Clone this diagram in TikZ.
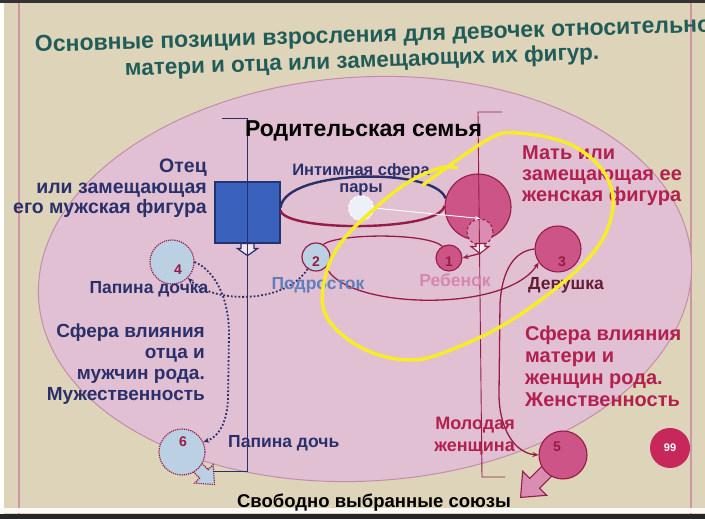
\documentclass[tikz,border=0pt]{standalone}
\usepackage{fontspec}
\setmainfont{Liberation Sans}
\usetikzlibrary{arrows.meta}
\definecolor{bgc}{RGB}{222,212,186}
\definecolor{navy}{RGB}{42,48,105}
\definecolor{crim}{RGB}{178,32,78}
\definecolor{cfill}{RGB}{204,84,134}
\definecolor{cborder}{RGB}{150,28,70}
\definecolor{lblue}{RGB}{188,208,228}
\definecolor{ellfill}{RGB}{226,192,212}
\definecolor{ellline}{RGB}{196,140,170}
\definecolor{titlec}{RGB}{32,92,88}
\definecolor{sqfill}{RGB}{58,98,188}
\definecolor{sqline}{RGB}{32,52,112}
\definecolor{teen}{RGB}{96,126,186}
\definecolor{child}{RGB}{214,136,172}
\definecolor{girl}{RGB}{100,30,52}
\definecolor{yel}{RGB}{246,236,40}
\definecolor{pnum}{RGB}{198,40,92}
\definecolor{lpink}{RGB}{218,140,178}
\definecolor{pinkrule}{RGB}{205,150,165}
\begin{document}
\begin{tikzpicture}[x=1pt,y=1pt,
  circ/.style={circle, inner sep=0pt, minimum size=#1},
  lbl/.style={inner sep=0pt, font=\bfseries\fontsize{19}{21}\selectfont},
  small/.style={inner sep=0pt, font=\bfseries\fontsize{17.5}{17}\selectfont},
  num/.style={inner sep=0pt, text=cborder, font=\bfseries\fontsize{14}{14}\selectfont},
  redcurve/.style={draw=cborder, line width=1.3pt},
  redarrow/.style={draw=cborder, line width=1.3pt, -{Stealth[length=6pt,width=5pt]}},
  navydots/.style={draw=navy, line width=1.8pt, dotted, -{Stealth[length=6pt,width=5pt]}},
  lbcirc/.style={fill=lblue, draw=cborder, line width=1.2pt, densely dotted},
  pkcirc/.style={fill=cfill, draw=cborder, line width=1.1pt},
  titletext/.style={inner sep=0pt, anchor=base west, text=titlec, font=\bfseries\fontsize{22.5}{24}\selectfont},
]
\useasboundingbox (0,0) rectangle (705,519);
\clip (0,0) rectangle (705,519);
% page
\fill[bgc] (0,0) rectangle (705,519);
\draw[pinkrule, line width=1.5pt] (19,0) -- (19,519);
\draw[pinkrule, line width=2pt] (691,0) -- (691,519);
\fill[white] (0,0) rectangle (4,519);
\fill[white!85!bgc] (0,6) rectangle (705,11);
\fill[black!85] (0,0) rectangle (705,5);
\fill[black!80] (0,516) rectangle (705,519);
% big ellipse
\filldraw[fill=ellfill, draw=ellline, line width=1pt, rotate around={3.5:(365,240)}]
  (365,240) ellipse [x radius=327pt, y radius=202pt];

% title
\node[titletext, rotate=1.7, font=\bfseries\fontsize{23}{24}\selectfont] (title1) at (35,467) {Основные позиции взросления для девочек относительно};
\node[titletext, rotate=2] (title2) at (125,443) {матери и отца или замещающих их фигур.};

% main nodes
\node[rectangle, inner sep=0pt, minimum width=65pt, minimum height=61pt, fill=sqfill, draw=sqline, line width=1.2pt] (sq) at (247.5,306.5) {};
\node[circ=66pt, pkcirc] (M) at (478,312) {};
\node[circ=26pt, fill=lpink, draw=cborder, line width=1pt, densely dashed] (D) at (480,287) {};
\node[circ=25pt, fill=white!70!lblue, draw=white, line width=1pt, densely dashed] (G) at (361,311) {};

% block arrows (under circles 5 and 6)
\begin{scope}[shift={(563,64)}, rotate=225]
  \filldraw[fill=lpink, draw=cborder, line width=1.1pt]
    (23,-7) -- (40,-7) -- (40,-17) -- (60,0) -- (40,17) -- (40,7) -- (23,7) -- cycle;
\end{scope}
\begin{scope}[shift={(182,67)}, rotate=-45]
  \filldraw[fill=lblue, draw=cborder, line width=1.2pt, densely dotted]
    (22,-6) -- (31,-6) -- (31,-13) -- (46,0) -- (31,13) -- (31,6) -- (22,6) -- cycle;
\end{scope}

\node[circ=26pt, pkcirc] (c1) at (449,261) {};
\node[circ=28pt, fill=lblue, draw=cborder, line width=1.2pt] (c2) at (316,262) {};
\node[circ=46pt, pkcirc] (c3) at (558,270) {};
\node[circ=44pt, lbcirc] (c4) at (172,257) {};
\node[circ=48pt, pkcirc] (c5) at (563,64) {};
\node[circ=46pt, lbcirc] (c6) at (182,67) {};
\node[circ=40pt, fill=pnum] (pn) at (670,71) {\color{white}\bfseries\fontsize{11}{11}\selectfont 99};

% numbers
\node[num] (n1) at ([shift={(0,-4)}]c1.center) {1};
\node[num] (n2) at ([shift={(0,-5)}]c2.center) {2};
\node[num] (n3) at ([shift={(4,-13)}]c3.center) {3};
\node[num] (n4) at ([shift={(6,-8)}]c4.center) {4};
\node[num] (n5) at ([shift={(-6,8)}]c5.center) {5};
\node[num] (n6) at ([shift={(1,10)}]c6.center) {6};

% hollow arrow below square
\filldraw[fill=white!60!ellfill, draw=navy, line width=1.2pt]
  ([xshift=-6.5pt]sq.south) -- ++(0,-5) -- ++(-3.5,0) -- ([yshift=-12pt]sq.south)
  -- ++(10,7) -- ++(-3.5,0) -- ++(0,5) -- cycle;
% hollow arrow below inner circle of mother
\coordinate (mtip) at ([yshift=-8pt]D.south);
\filldraw[fill=white!70!ellfill, draw=cborder, line width=1.1pt]
  ([shift={(-4,2)}]D.south) -- ++(0,-3) -- ++(-5,0) -- (mtip)
  -- ++(9,7) -- ++(-4,0) -- ++(0,3) -- cycle;

% vertical lines
\draw[navy, line width=0.9pt] (222,401) -- (247,401) -- (247,48) -- (213,48);
\draw[cborder, line width=0.9pt] (502,407) -- (478,407) -- (482,42) -- (505,42);

% intimate sphere
\draw[draw=navy, line width=2.4pt] ([yshift=5pt]sq.east) .. controls (285,350) and (435,352) .. (M.165);
\draw[draw=cborder, line width=2.4pt] ([yshift=2pt]sq.east) .. controls (285,287) and (440,287) .. (M.178);
\draw[white, line width=0.9pt, -{Stealth[length=5pt,width=4pt]}] (G.east) -- (D.north);

% connectors
\draw[redarrow] (mtip) -- (c1.east);
\draw[redcurve] (c2.60) .. controls (340,286) and (428,286) .. (c1.120);
\draw[redarrow] (c2.-45) .. controls (345,210) and (505,205) .. (c3.215);
\draw[redarrow] (c3.180) .. controls (515,268) and (502,250) .. (500,215) -- (499,125)
  .. controls (499,90) and (515,66) .. (c5.180);
\draw[navydots] (c2.235) .. controls (285,215) and (215,215) .. (c4.-45);
\draw[navydots] (c4.0) .. controls (212,250) and (229,225) .. (229,185) -- (228,120)
  .. controls (227,95) and (218,82) .. (c6.25);

% texts
\node[lbl, text=black, font=\bfseries\fontsize{23}{24}\selectfont, anchor=base west] (family) at (245,382) {Родительская семья};
\node[lbl, text=navy, anchor=north east, align=right, font=\bfseries\fontsize{19.5}{20.5}\selectfont] (father) at (207,360) {Отец\\или замещающая\\его мужская фигура};
\node[lbl, text=crim, anchor=north west, align=left, font=\bfseries\fontsize{20}{21}\selectfont] (mother) at (522,373) {Мать или\\замещающая ее\\женская фигура};
\node[small, text=navy, anchor=north, align=center, font=\bfseries\fontsize{16.5}{17}\selectfont] (intim) at (361,356) {Интимная сфера\\пары};
\node[small, text=navy, anchor=base] (dochka) at (149,225) {Папина дочка};
\node[small, text=teen, anchor=base] (teenl) at (318,229) {Подросток};
\node[small, text=child, anchor=base] (childl) at (455,232) {Ребенок};
\node[small, text=girl, anchor=base west] (girll) at (528,229) {Девушка};
\node[lbl, text=navy, anchor=north east, align=right] (sphf) at (205,195) {Сфера влияния\\отца и\\мужчин рода.\\Мужественность};
\node[lbl, text=crim, anchor=north west, align=left, font=\bfseries\fontsize{20}{22}\selectfont] (sphm) at (525,193) {Сфера влияния\\матери и\\женщин рода.\\Женственность};
\node[lbl, text=crim, anchor=north east, align=right, font=\bfseries\fontsize{18}{22}\selectfont] (young) at (515,102) {Молодая\\женщина};
\node[small, text=navy, anchor=base west] (doch) at (228,71) {Папина дочь};
\node[lbl, text=black, anchor=base, font=\bfseries\fontsize{18.5}{21}\selectfont] (free) at (374,11) {Свободно выбранные союзы};

% yellow hand-drawn loop
\draw[yel, line width=3.5pt, line cap=round] plot[smooth, tension=0.6] coordinates {
  (423,334) (487,379) (517,386) (567,376) (600,352) (613,322) (607,289) (587,259)
  (550,226) (500,192) (443,166) (410,159) (373,166) (340,186) (323,212) (327,249)
  (343,279) (373,309) (407,336) (440,351) (457,351)};
\end{tikzpicture}
\end{document}
